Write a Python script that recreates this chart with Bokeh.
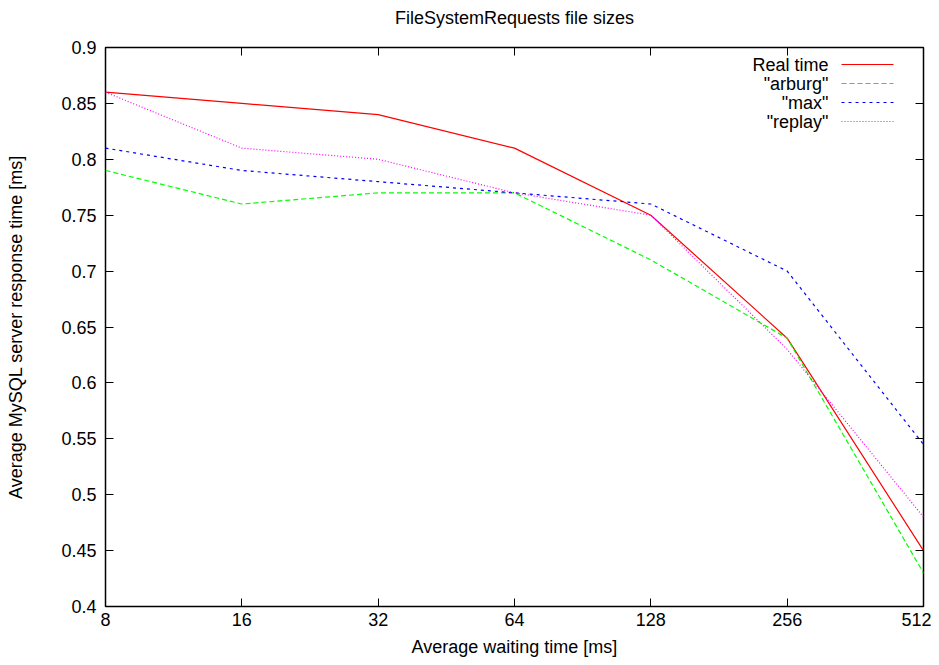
from bokeh.plotting import figure
from bokeh.models import (FixedTicker, LinearAxis, LogAxis, Label, Arrow, Range1d,
                          CustomLabelingPolicy)
from bokeh.embed import file_html
from bokeh.resources import INLINE

wait_ms = [8, 16, 32, 64, 128, 256, 512]
real_time = [0.86, 0.85, 0.84, 0.81, 0.75, 0.64, 0.45]
arburg = [0.79, 0.76, 0.77, 0.77, 0.71, 0.64, 0.43]
max_s = [0.81, 0.79, 0.78, 0.77, 0.76, 0.70, 0.545]
replay = [0.86, 0.81, 0.80, 0.77, 0.75, 0.63, 0.48]
y_ticks = [0.4, 0.45, 0.5, 0.55, 0.6, 0.65, 0.7, 0.75, 0.8, 0.85, 0.9]

series = [
    ("Real time", real_time, "#ff0000", "solid"),
    ('"arburg"', arburg, "#00ff00", "5 3"),
    ('"max"', max_s, "#0000ff", "3 4"),
    ('"replay"', replay, "#ff00ff", "1 2"),
]

TITLE = "FileSystemRequests file sizes"
FONT = "Liberation Sans"
FS = "18px"

p = figure(frame_width=818, frame_height=559, output_backend="svg", toolbar_location=None,
           x_axis_type="log", x_range=Range1d(8, 512), y_range=Range1d(0.4, 0.9),
           title=TITLE,
           min_border_left=105, min_border_right=8, min_border_top=47, min_border_bottom=56)

p.title.align = "center"
p.title.text_font = FONT
p.title.text_font_size = FS
p.title.text_font_style = "normal"
p.title.text_color = "#000000"
p.title.standoff = 10

p.xgrid.visible = False
p.ygrid.visible = False
p.outline_line_color = "#000000"
p.outline_line_width = 1.5

xa = p.xaxis[0]
xa.ticker = FixedTicker(ticks=wait_ms, minor_ticks=[])
xa.major_label_overrides = {v: str(v) for v in wait_ms}
xa.axis_label = "Average waiting time [ms]"
ya = p.yaxis[0]
ya.ticker = FixedTicker(ticks=y_ticks, minor_ticks=[])
ya.major_label_overrides = {v: ("%g" % v) for v in y_ticks}
ya.axis_label = "Average MySQL server response time [ms]"

for ax in (xa, ya):
    ax.major_tick_in = 8
    ax.major_tick_out = 0
    ax.minor_tick_in = 0
    ax.minor_tick_out = 0
    ax.major_tick_line_color = "#000000"
    ax.axis_line_color = None
    ax.major_label_text_font = FONT
    ax.major_label_text_font_size = FS
    ax.major_label_text_color = "#000000"
    ax.axis_label_text_font = FONT
    ax.axis_label_text_font_size = FS
    ax.axis_label_text_font_style = "normal"
    ax.axis_label_text_color = "#000000"
xa.major_label_standoff = 6
xa.axis_label_standoff = 8
ya.major_label_standoff = 9
ya.axis_label_standoff = 32

# mirror tick axes (ticks only, no labels)
no_labels = CustomLabelingPolicy(code="""
const ones = Array.from(indices.ones());
for (const i of ones) { indices.unset(i); }
return indices;
""")
top = LogAxis(ticker=FixedTicker(ticks=wait_ms, minor_ticks=[]))
right = LinearAxis(ticker=FixedTicker(ticks=y_ticks, minor_ticks=[]))
for ax in (top, right):
    ax.major_tick_in = 8
    ax.major_tick_out = 0
    ax.minor_tick_in = 0
    ax.minor_tick_out = 0
    ax.major_tick_line_color = "#000000"
    ax.axis_line_color = None
    ax.major_label_text_font_size = "0px"
    ax.major_label_standoff = 0
    ax.major_label_policy = no_labels
p.add_layout(top, "above")
p.add_layout(right, "right")

# invisible spacer between the frame and the title
spacer = LogAxis(ticker=FixedTicker(ticks=wait_ms, minor_ticks=[]))
spacer.major_tick_in = 0
spacer.major_tick_out = 15
spacer.minor_tick_in = 0
spacer.minor_tick_out = 0
spacer.major_tick_line_alpha = 0
spacer.axis_line_color = None
spacer.major_label_text_font_size = "0px"
spacer.major_label_standoff = 0
spacer.major_label_policy = no_labels
p.add_layout(spacer, "above")

for name, vals, color, dash in series:
    p.line(wait_ms, vals, line_color=color, line_width=1.2, line_dash=dash)

# legend: labels right-aligned, samples to the right (gnuplot style)
for i, (name, vals, color, dash) in enumerate(series):
    yy = 542 - 19 * i
    p.add_layout(Label(x=723, y=yy, x_units="screen", y_units="screen", text=name,
                       text_align="right", text_baseline="middle", text_font=FONT,
                       text_font_size=FS, text_color="#000000"))
    p.add_layout(Arrow(end=None, x_start=736, y_start=yy, x_end=788, y_end=yy,
                       start_units="screen", end_units="screen",
                       line_color=color, line_width=1.2, line_dash=dash))

open("out.html", "w").write(file_html(p, INLINE))
